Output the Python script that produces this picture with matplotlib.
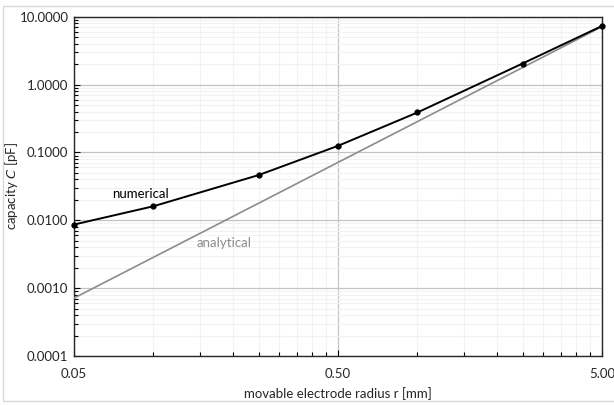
import numpy as np
import matplotlib
matplotlib.use("Agg")
import matplotlib.pyplot as plt
from matplotlib.ticker import FixedLocator, NullFormatter
from matplotlib.patches import Rectangle

plt.rcParams['font.family'] = ['Lato', 'DejaVu Sans']

# movable electrode radius r [mm]
radius = [0.05, 0.1, 0.25, 0.5, 1.0, 2.5, 5.0]
# capacity C [pF]
numerical = [0.00865, 0.0161, 0.0463, 0.125, 0.388, 2.04, 7.3]
analytical = [0.000713, 0.00285, 0.0178, 0.0713, 0.285, 1.78, 7.13]

x_major = [0.05, 0.5, 5.0]
x_labels = ["0.05", "0.50", "5.00"]
y_major = [0.0001, 0.001, 0.01, 0.1, 1.0, 10.0]
y_labels = ["0.0001", "0.0010", "0.0100", "0.1000", "1.0000", "10.0000"]

fs = 9.5
fig = plt.figure(figsize=(6.14, 4.05), dpi=100)
ax = fig.add_axes([74 / 614, 1 - 356 / 405, 528 / 614, 339.3 / 405])

ax.plot(radius, analytical, color="#8c8c8c", lw=1.2, zorder=3)
ax.plot(radius, numerical, color="black", lw=1.4, marker="o", ms=3.5, zorder=4,
        clip_on=False)

ax.set_xscale("log")
ax.set_yscale("log")
ax.set_xlim(0.05, 5.0)
ax.set_ylim(0.0001, 10.0)

# minor ticks like Excel: multiples of the axis minimum
x_minor = [0.05 * k * d for d in (1, 10) for k in range(2, 10)]
y_minor = [10.0 ** e * k for e in range(-4, 1) for k in range(2, 10)]
ax.xaxis.set_major_locator(FixedLocator(x_major))
ax.xaxis.set_minor_locator(FixedLocator(x_minor))
ax.yaxis.set_major_locator(FixedLocator(y_major))
ax.yaxis.set_minor_locator(FixedLocator(y_minor))
ax.set_xticklabels(x_labels)
ax.set_yticklabels(y_labels)
ax.xaxis.set_minor_formatter(NullFormatter())
ax.yaxis.set_minor_formatter(NullFormatter())

ax.grid(True, which="major", color="#c4c4c4", lw=0.9)
ax.grid(True, which="minor", color="#f2f2f2", lw=0.8)
ax.set_axisbelow(True)

ax.tick_params(which="both", direction="in", colors="black", labelsize=fs,
               labelcolor="#262626")
ax.tick_params(which="major", length=4, width=0.8)
ax.tick_params(which="minor", length=3, width=0.8)
ax.tick_params(axis="x", pad=9)
ax.tick_params(axis="y", pad=4)

for s in ax.spines.values():
    s.set_color("#262626")
    s.set_linewidth(1.0)

ax.set_xlabel("movable electrode radius r [mm]", fontsize=fs, color="#262626",
              labelpad=5)
ax.set_ylabel("capacity $\\mathit{C}$ [pF]", fontsize=fs, color="#262626")
ax.yaxis.set_label_coords(-0.103, 0.5)

ax.text(0.089, 0.0247, "numerical", fontsize=fs, color="black", ha="center",
        va="center")
ax.text(0.185, 0.0047, "analytical", fontsize=fs, color="#8c8c8c",
        ha="center", va="center")

fig.patches.append(Rectangle((3 / 614, 4 / 405), 620 / 614, 395 / 405,
                             transform=fig.transFigure, fill=False,
                             edgecolor="#d9d9d9", lw=1.0))

fig.savefig("out.png", dpi=100)
